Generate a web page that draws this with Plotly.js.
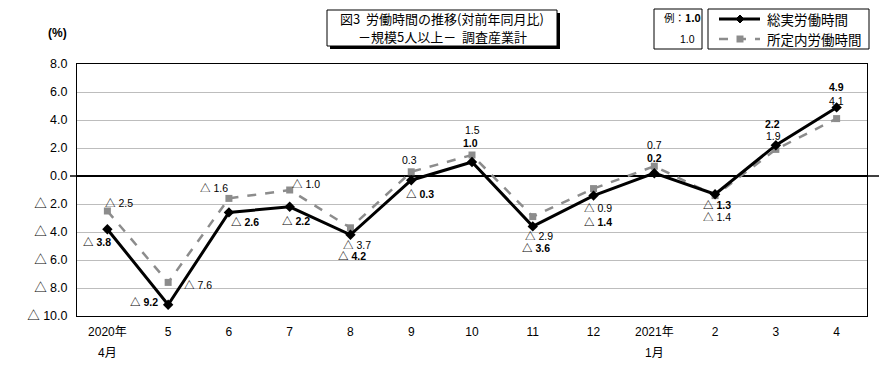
<!DOCTYPE html>
<html><head><meta charset="utf-8">
<script src="https://cdn.plot.ly/plotly-3.0.1.min.js"></script>
<style>body{margin:0;padding:0;background:#fff}#c{width:890px;height:371px}</style>
</head><body><div id="c"></div>
<script>
// ---- data ----
const categories = ["2020年<br>4月","5","6","7","8","9","10","11","12","2021年<br>1月","2","3","4"];
const totalHours = [-3.8,-9.2,-2.6,-2.2,-4.2,-0.3,1.0,-3.6,-1.4,0.2,-1.3,2.2,4.9];
const scheduledHours = [-2.5,-7.6,-1.6,-1.0,-3.7,0.3,1.5,-2.9,-0.9,0.7,-1.4,1.9,4.1];
const seriesNames = ["総実労働時間","所定内労働時間"];
const titleLines = ["図3  労働時間の推移(対前年同月比)","－規模5人以上－  調査産業計"];
const yTickVals = [8,6,4,2,0,-2,-4,-6,-8,-10];
const yTickText = ["8.0","6.0","4.0","2.0","0.0","△ 2.0","△ 4.0","△ 6.0","△ 8.0","△ 10.0"];

// ---- label offsets (pixels) ----
const totalOff = [[-10,-13],[-24,3],[16,-10],[6,-14],[2,-21],[9,-14],[-2,19],[3,-22],[4,-26],[0,15],[2,-11],[-3,21],[0,20]];
const schedOff = [[12,8],[30,-3],[-15,10],[16,6],[7,-17],[-2,12],[0,25],[6,-19],[4,-19],[0,21],[2,-21],[-2,13],[0,18]];

const L=77,R=867,T=64,B=316;
const px=x=>(x-L)/(R-L), py=y=>(B-y)/(B-T);
const fnum="'Liberation Sans','Noto Sans CJK JP',sans-serif";
const fjp="'Noto Sans CJK JP','Liberation Sans',sans-serif";
const fmt=v=>v<0?"△ "+Math.abs(v).toFixed(1):v.toFixed(1);
const idx=categories.map((c,i)=>i);

const traces=[
 {x:idx,y:scheduledHours,name:seriesNames[1],type:"scatter",mode:"lines+markers",
  line:{color:"#8c8c8c",width:2.5,dash:"dash"},marker:{symbol:"square",size:7,color:"#8c8c8c"}},
 {x:idx,y:totalHours,name:seriesNames[0],type:"scatter",mode:"lines+markers",
  line:{color:"#000",width:3},marker:{symbol:"diamond",size:8,color:"#000"}}
];

const ann=[];
totalHours.forEach((v,i)=>ann.push({x:i,y:v,xref:"x",yref:"y",text:"<b>"+fmt(v)+"</b>",showarrow:false,
  xshift:totalOff[i][0],yshift:totalOff[i][1],font:{family:fnum,size:10.5,color:"#000"}}));
scheduledHours.forEach((v,i)=>ann.push({x:i,y:v,xref:"x",yref:"y",text:fmt(v),showarrow:false,
  xshift:schedOff[i][0],yshift:schedOff[i][1],font:{family:fnum,size:10.5,color:"#000"}}));
// second line of x tick labels
categories.forEach((c,i)=>{const p=c.split("<br>"); if(p.length>1) ann.push({x:i,xref:"x",yref:"paper",y:py(353),
  text:p[1],showarrow:false,xanchor:"center",yanchor:"middle",font:{family:fnum,size:12,color:"#000"}});});
// unit
ann.push({xref:"paper",yref:"paper",x:px(57),y:py(33),xanchor:"center",yanchor:"middle",text:"<b>(%)</b>",showarrow:false,font:{family:fnum,size:12,color:"#000"}});
// title box
ann.push({xref:"paper",yref:"paper",x:px(442),y:py(18.5),xanchor:"center",yanchor:"middle",text:titleLines[0],
  showarrow:false,font:{family:fjp,size:13,color:"#000"}});
ann.push({xref:"paper",yref:"paper",x:px(442),y:py(36.5),xanchor:"center",yanchor:"middle",text:titleLines[1],
  showarrow:false,font:{family:fjp,size:13,color:"#000"}});
// example box
ann.push({xref:"paper",yref:"paper",x:px(662),y:py(18),xanchor:"left",yanchor:"middle",text:"例：<b>1.0</b>",
  showarrow:false,font:{family:fjp,size:10.5,color:"#000"}});
ann.push({xref:"paper",yref:"paper",x:px(697),y:py(39),xanchor:"right",yanchor:"middle",text:"1.0",
  showarrow:false,font:{family:fnum,size:10.5,color:"#000"}});
// legend text
ann.push({xref:"paper",yref:"paper",x:px(765),y:py(19),xanchor:"left",yanchor:"middle",text:seriesNames[0],
  showarrow:false,font:{family:fjp,size:13.5,color:"#000"}});
ann.push({xref:"paper",yref:"paper",x:px(765),y:py(39),xanchor:"left",yanchor:"middle",text:seriesNames[1],
  showarrow:false,font:{family:fjp,size:13.5,color:"#000"}});

const dia=(cx,cy,r)=>`M${px(cx)},${py(cy-r)} L${px(cx+r)},${py(cy)} L${px(cx)},${py(cy+r)} L${px(cx-r)},${py(cy)} Z`;
const shapes=[
 {type:"rect",xref:"paper",yref:"paper",x0:px(330),x1:px(560),y0:py(49),y1:py(13),fillcolor:"#000",line:{width:0},layer:"above"},
 {type:"rect",xref:"paper",yref:"paper",x0:px(327),x1:px(557),y0:py(46),y1:py(10),fillcolor:"#fff",line:{color:"#000",width:1},layer:"above"},
 {type:"rect",xref:"paper",yref:"paper",x0:px(654),x1:px(702),y0:py(49),y1:py(9),fillcolor:"#fff",line:{color:"#000",width:1},layer:"above"},
 {type:"rect",xref:"paper",yref:"paper",x0:px(708),x1:px(869),y0:py(49),y1:py(9),fillcolor:"#fff",line:{color:"#000",width:1},layer:"above"},
 {type:"line",xref:"paper",yref:"paper",x0:px(719),x1:px(760),y0:py(19),y1:py(19),line:{color:"#000",width:3},layer:"above"},
 {type:"path",xref:"paper",yref:"paper",path:dia(740,19,4),fillcolor:"#000",line:{color:"#000",width:1},layer:"above"},
 {type:"line",xref:"paper",yref:"paper",x0:px(719),x1:px(760),y0:py(39),y1:py(39),line:{color:"#8c8c8c",width:2.5,dash:"dash"},layer:"above"},
 {type:"rect",xref:"paper",yref:"paper",x0:px(736.5),x1:px(743.5),y0:py(42.5),y1:py(35.5),fillcolor:"#8c8c8c",line:{width:0},layer:"above"},
 {type:"line",xref:"paper",yref:"y",x0:px(70),x1:px(L),y0:0,y1:0,line:{color:"#000",width:1.5}},
 {type:"line",xref:"paper",yref:"y",x0:px(R),x1:px(879),y0:0,y1:0,line:{color:"#000",width:1.5}}
];

const layout={
 width:890,height:371,margin:{l:L,r:890-R,t:T,b:371-B},
 paper_bgcolor:"#fff",plot_bgcolor:"#fff",showlegend:false,
 xaxis:{type:"linear",range:[-0.5,12.5],tickvals:idx,ticktext:categories.map(c=>c.split("<br>")[0]),showgrid:false,zeroline:false,
  showline:true,linecolor:"#000",linewidth:1,mirror:true,ticks:"",ticklabelstandoff:5,tickfont:{family:fnum,size:12,color:"#000"}},
 yaxis:{range:[-10,8],tickvals:yTickVals,ticktext:yTickText,showgrid:true,gridcolor:"#bdbdbd",gridwidth:1,
  zeroline:true,zerolinecolor:"#000",zerolinewidth:1.5,
  showline:true,linecolor:"#000",linewidth:1,mirror:true,ticks:"",ticklabelstandoff:6,tickfont:{family:fnum,size:12.5,color:"#000"}},
 annotations:ann,shapes:shapes
};
Plotly.newPlot("c",traces,layout,{displayModeBar:false,staticPlot:true});
</script></body></html>
